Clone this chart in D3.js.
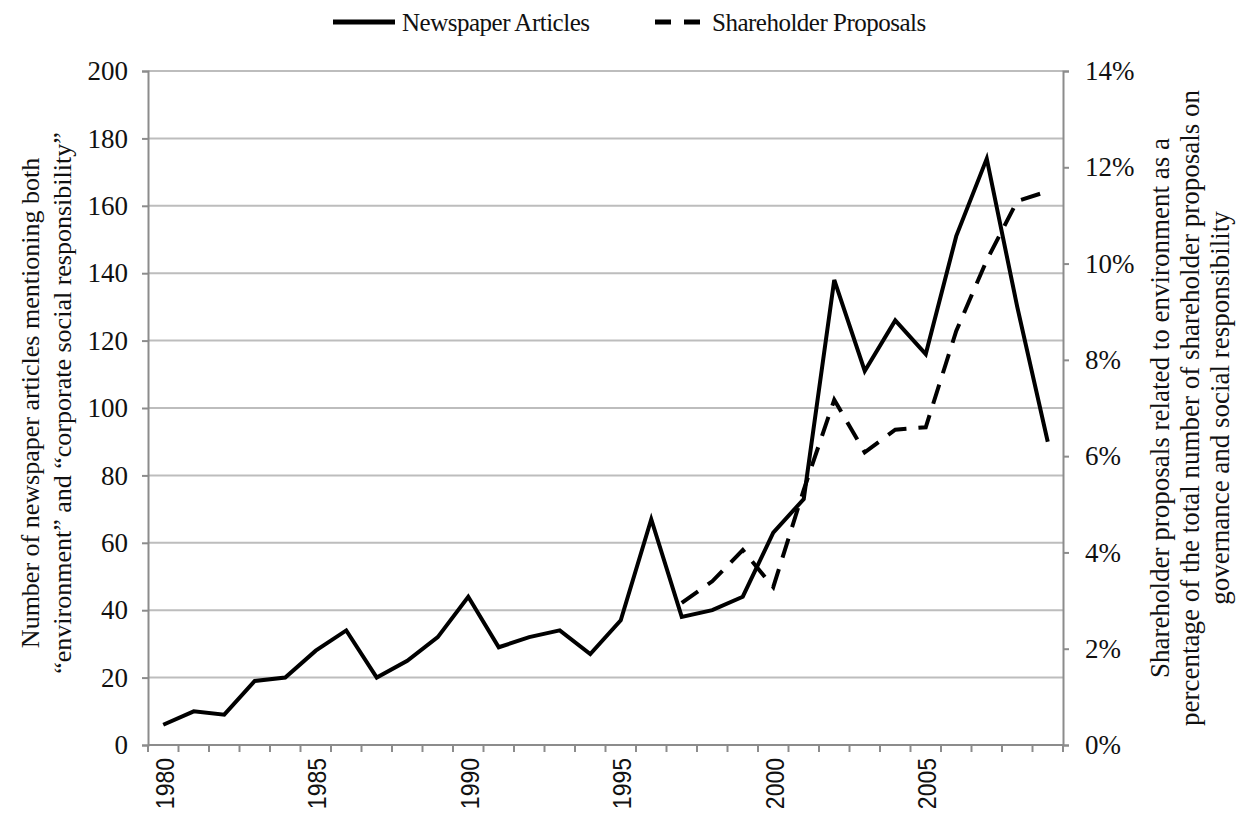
<!DOCTYPE html>
<html>
<head>
<meta charset="utf-8">
<script src="https://cdn.jsdelivr.net/npm/d3@7"></script>
<style>
  html, body { margin: 0; padding: 0; background: #fff; }
  svg { display: block; }
</style>
</head>
<body>
<svg id="chart" width="1246" height="817"></svg>
<script>
// ---- data ----
const years = d3.range(1980, 2010);
const newspaperArticles = [6, 10, 9, 19, 20, 28, 34, 20, 25, 32, 44, 29, 32, 34, 27, 37, 67, 38, 40, 44, 63, 73, 138, 111, 126, 116, 151, 174, 130, 90];
const proposalYears = [1997, 1998, 1999, 2000, 2001, 2002, 2003, 2004, 2005, 2006, 2007, 2008, 2009];
const proposalPct = [2.95, 3.4, 4.05, 3.28, 5.3, 7.17, 6.08, 6.55, 6.6, 8.6, 10.07, 11.3, 11.5];
const leftTicks = [0, 20, 40, 60, 80, 100, 120, 140, 160, 180, 200];
const rightTicks = [0, 2, 4, 6, 8, 10, 12, 14];
const xLabelYears = [1980, 1985, 1990, 1995, 2000, 2005];
const leftTitle = ["Number of newspaper articles mentioning both", "\u201Cenvironment\u201D and \u201Ccorporate social responsibility\u201D"];
const rightTitle = ["Shareholder proposals related to environment as a", "percentage of the total number of shareholder proposals on", "governance and social responsibility"];
const legendItems = [{ name: "Newspaper Articles", dash: null }, { name: "Shareholder Proposals", dash: "16,13" }];

// ---- layout ----
const L = 148, R = 1063, T = 71, B = 745;
const svg = d3.select("#chart");
const serif = "'Liberation Serif', 'Times New Roman', serif";

const x = d3.scaleBand().domain(years).range([L, R]).padding(0);
const yL = d3.scaleLinear().domain([0, 200]).range([B, T]);
const yR = d3.scaleLinear().domain([0, 14]).range([B, T]);
const cx = d => x(d) + x.bandwidth() / 2;

// gridlines
svg.append("g").selectAll("line").data(leftTicks.slice(1)).join("line")
  .attr("x1", L).attr("x2", R).attr("y1", d => yL(d)).attr("y2", d => yL(d))
  .attr("stroke", "#bdbdbd").attr("stroke-width", 2);

// left axis
const gL = svg.append("g").attr("transform", `translate(${L},0)`)
  .call(d3.axisLeft(yL).tickValues(leftTicks).tickSize(6).tickPadding(14));
gL.select(".domain").attr("stroke", "#8c8c8c").attr("stroke-width", 2);
gL.selectAll(".tick line").attr("stroke", "#8c8c8c").attr("stroke-width", 2);
gL.selectAll("text").attr("font-family", serif).attr("font-size", 27).attr("fill", "#111");

// right axis
const gR = svg.append("g").attr("transform", `translate(${R},0)`)
  .call(d3.axisRight(yR).tickValues(rightTicks).tickFormat(d => d + "%").tickSize(6).tickPadding(16));
gR.select(".domain").attr("stroke", "#8c8c8c").attr("stroke-width", 2);
gR.selectAll(".tick line").attr("stroke", "#8c8c8c").attr("stroke-width", 2);
gR.selectAll("text").attr("font-family", serif).attr("font-size", 27).attr("fill", "#111");

// bottom axis line + boundary ticks
const gB = svg.append("g");
gB.append("line").attr("x1", L).attr("x2", R).attr("y1", B).attr("y2", B)
  .attr("stroke", "#8c8c8c").attr("stroke-width", 2);
gB.selectAll("line.tk").data(years.concat([2010])).join("line").attr("class", "tk")
  .attr("x1", d => d === 2010 ? R : x(d)).attr("x2", d => d === 2010 ? R : x(d))
  .attr("y1", B).attr("y2", B + 7).attr("stroke", "#8c8c8c").attr("stroke-width", 2);
gB.selectAll("text").data(xLabelYears).join("text")
  .attr("transform", d => `translate(${cx(d) + 1},${B + 13}) rotate(-90) scale(1,1.15)`)
  .attr("text-anchor", "end").attr("dy", "0.35em")
  .attr("font-family", "'Liberation Sans', Arial, sans-serif")
  .attr("font-size", 23).attr("fill", "#111")
  .text(d => d);

// lines
const lineL = d3.line().x((d, i) => cx(years[i])).y(d => yL(d));
svg.append("path").datum(newspaperArticles).attr("d", lineL)
  .attr("fill", "none").attr("stroke", "#000").attr("stroke-width", 4).attr("stroke-linejoin", "miter");

const lineR = d3.line().x((d, i) => cx(proposalYears[i])).y(d => yR(d));
svg.append("path").datum(proposalPct).attr("d", lineR)
  .attr("fill", "none").attr("stroke", "#000").attr("stroke-width", 4).attr("stroke-dasharray", "20,12");

// axis titles
const lt = svg.append("text").attr("transform", "translate(30,403) rotate(-90)")
  .attr("text-anchor", "middle").attr("font-family", serif).attr("font-size", 26).attr("fill", "#111");
leftTitle.forEach((s, i) => lt.append("tspan").attr("x", 0).attr("y", i * 32).attr("dy", "0.35em").text(s));

const rt = svg.append("text").attr("transform", "translate(1160,408) rotate(-90)")
  .attr("text-anchor", "middle").attr("font-family", serif).attr("font-size", 27).attr("fill", "#111");
rightTitle.forEach((s, i) => rt.append("tspan").attr("x", 0).attr("y", i * 30).attr("dy", "0.35em").text(s));

// legend
const lg = svg.append("g");
const lgX = [333, 655];
legendItems.forEach((it, i) => {
  const g = lg.append("g").attr("transform", `translate(${lgX[i]},22)`);
  g.append("line").attr("x1", 0).attr("x2", i === 0 ? 62 : 45).attr("y1", 0).attr("y2", 0)
    .attr("stroke", "#000").attr("stroke-width", 5)
    .attr("stroke-dasharray", it.dash);
  g.append("text").attr("x", i === 0 ? 69 : 57).attr("y", 0).attr("dy", "0.35em")
    .attr("font-family", serif).attr("font-size", 25).attr("fill", "#111")
    .attr("letter-spacing", -0.5).text(it.name);
});
</script>
</body>
</html>
